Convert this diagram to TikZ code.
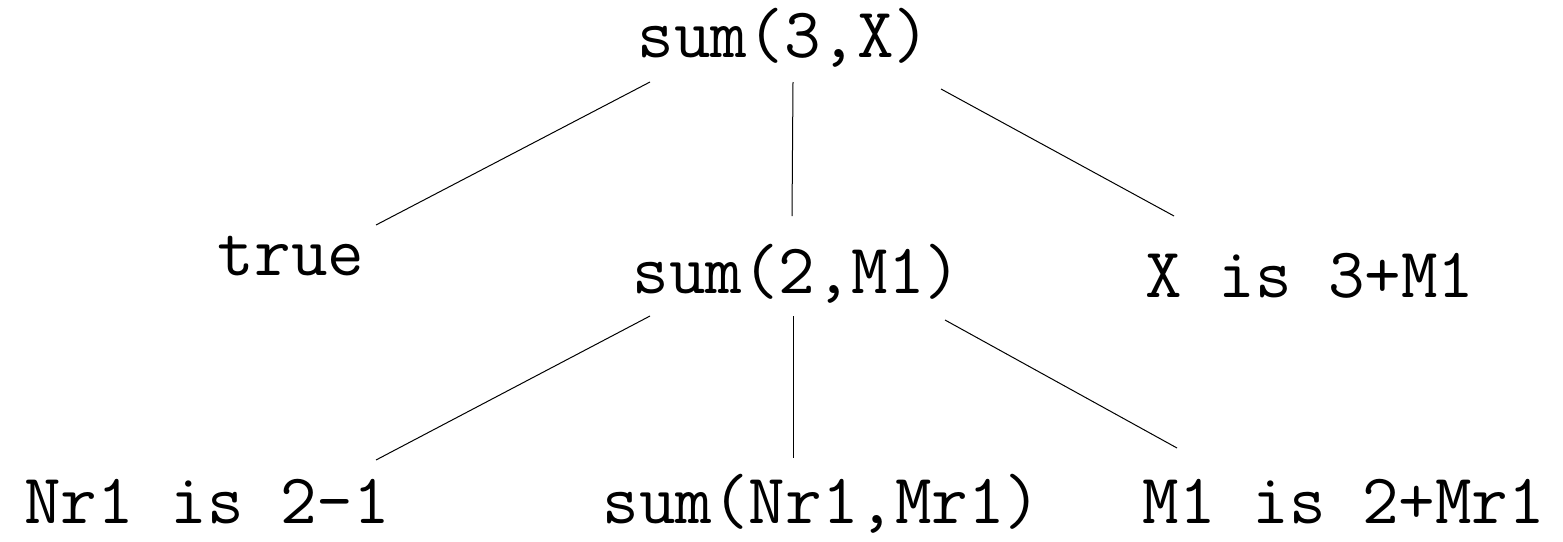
\documentclass[tikz,border=0pt]{standalone}
\usepackage{fontspec}
\begin{document}
\begin{tikzpicture}[x=1pt,y=-1pt,
  term/.style={anchor=base,inner sep=0pt,font=\fontsize{71}{71}\selectfont\ttfamily},
  edge/.style={line width=1pt}]
\useasboundingbox (0,0) rectangle (1563,541);
\node[term] (root) at (784,57) {sum(3,X)};
\node[term] (t) at (291,275) {true};
\node[term] (s2) at (797,293) {sum(2,M1)};
\node[term] (x) at (1310,297) {X is 3+M1};
\node[term] (n) at (207,523) {Nr1 is 2-1};
\node[term] (s3) at (822,523) {sum(Nr1,Mr1)};
\node[term] (m) at (1344,523) {M1 is 2+Mr1};
\coordinate (r1) at (650,82);  \coordinate (t1) at (376,225);
\coordinate (r2) at (793,82);  \coordinate (s21) at (792,216);
\coordinate (r3) at (941,89);  \coordinate (x1) at (1174,216);
\coordinate (q1) at (650,316); \coordinate (n1) at (376,460);
\coordinate (q2) at (793,316); \coordinate (s31) at (793,458);
\coordinate (q3) at (945,320); \coordinate (m1) at (1177,448);
\draw[edge] (r1) -- (t1);
\draw[edge] (r2) -- (s21);
\draw[edge] (r3) -- (x1);
\draw[edge] (q1) -- (n1);
\draw[edge] (q2) -- (s31);
\draw[edge] (q3) -- (m1);
\end{tikzpicture}
\end{document}
